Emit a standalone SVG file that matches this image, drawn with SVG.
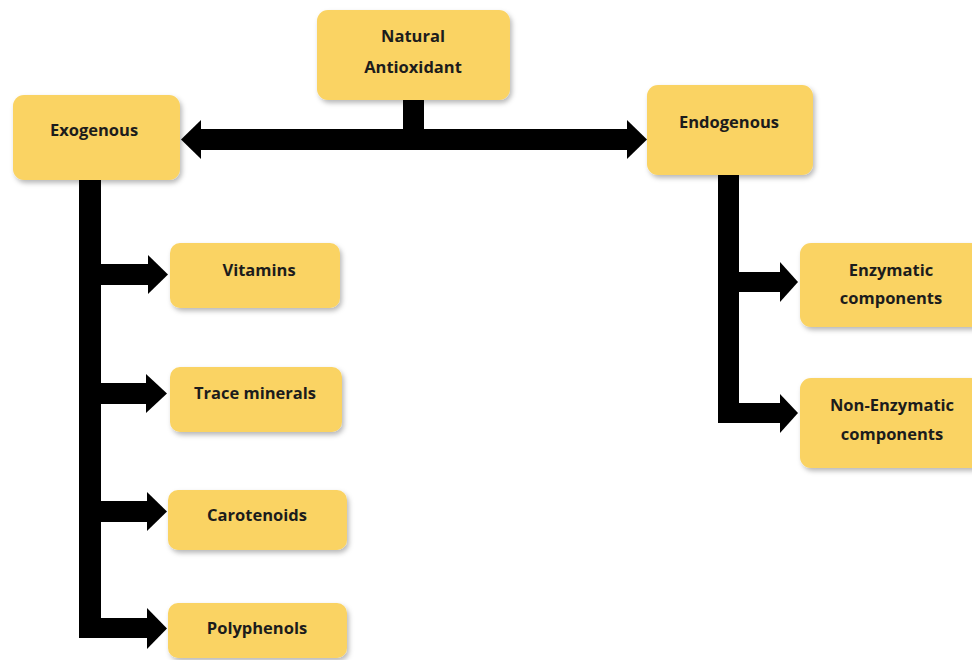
<svg xmlns="http://www.w3.org/2000/svg" width="972" height="660" viewBox="0 0 972 660">
<defs>
<filter id="sh" x="-20%" y="-20%" width="140%" height="150%">
<feDropShadow dx="2" dy="3" stdDeviation="2.5" flood-color="#000" flood-opacity="0.28"/>
</filter>
<style>
.box{fill:#FAD363;filter:url(#sh)}
.t{font-family:"Open Sans","Liberation Sans",sans-serif;font-weight:700;font-size:16.5px;fill:#1c1c1c;text-anchor:middle}
.bar{fill:#000}
</style>
</defs>
<rect width="972" height="660" fill="#fff"/>
<g id="connectors" class="bar">
<rect x="403" y="98" width="21" height="34"/>
<rect x="199" y="129" width="430" height="21"/>
<polygon points="181,139.5 201,120 201,159"/>
<polygon points="647,139.5 627,120 627,159"/>
<rect x="79" y="178" width="22" height="460"/>
<rect x="99" y="264" width="50" height="21"/>
<polygon points="168,274.5 148,255 148,294"/>
<rect x="99" y="383" width="48" height="21"/>
<polygon points="167,393.5 146,374 146,413"/>
<rect x="99" y="501" width="49" height="21"/>
<polygon points="167,511.5 147,492 147,531"/>
<rect x="99" y="618" width="49" height="20"/>
<polygon points="167,628.5 147,608 147,649"/>
<rect x="718" y="173" width="21" height="250"/>
<rect x="737" y="272" width="44" height="20"/>
<polygon points="798,282 780,262 780,302"/>
<rect x="737" y="403" width="44" height="20"/>
<polygon points="798,413 780,394 780,433"/>
</g>
<g id="natural"><rect class="box" x="317" y="10" width="193" height="90" rx="11"/><text class="t" x="413" y="42">Natural</text><text class="t" x="413" y="73">Antioxidant</text></g>
<g id="exogenous"><rect class="box" x="13" y="95" width="167" height="85" rx="11"/><text class="t" x="94" y="136">Exogenous</text></g>
<g id="endogenous"><rect class="box" x="647" y="85" width="166" height="90" rx="11"/><text class="t" x="729" y="128">Endogenous</text></g>
<g id="vitamins"><rect class="box" x="170" y="243" width="170" height="65" rx="10"/><text class="t" x="259" y="276">Vitamins</text></g>
<g id="trace"><rect class="box" x="170" y="367" width="172" height="65" rx="10"/><text class="t" x="255" y="399">Trace minerals</text></g>
<g id="carotenoids"><rect class="box" x="168" y="490" width="179" height="60" rx="10"/><text class="t" x="257" y="521">Carotenoids</text></g>
<g id="polyphenols"><rect class="box" x="168" y="603" width="179" height="55" rx="10"/><text class="t" x="257" y="634">Polyphenols</text></g>
<g id="enzymatic"><rect class="box" x="800" y="243" width="182" height="84" rx="11"/><text class="t" x="891" y="276">Enzymatic</text><text class="t" x="891" y="304">components</text></g>
<g id="nonenzymatic"><rect class="box" x="800" y="378" width="182" height="90" rx="11"/><text class="t" x="892" y="411">Non-Enzymatic</text><text class="t" x="892" y="440">components</text></g>
</svg>
